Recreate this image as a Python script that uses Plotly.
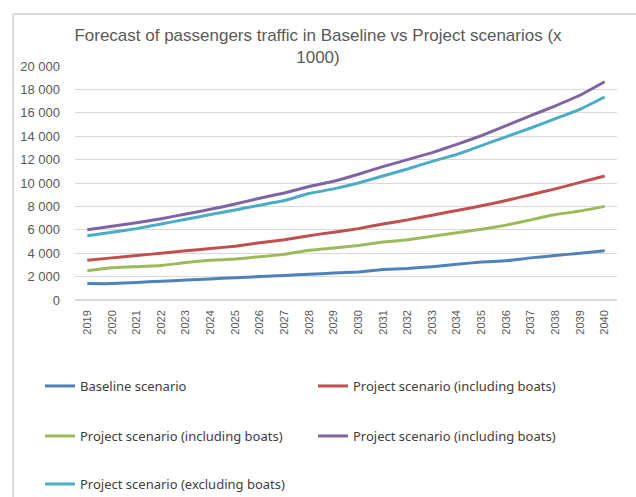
import plotly.graph_objects as go

years = [str(y) for y in range(2019, 2041)]

baseline = [1400, 1400, 1500, 1600, 1700, 1800, 1900, 2000, 2100, 2200, 2300, 2400,
            2600, 2700, 2850, 3050, 3250, 3350, 3600, 3800, 4000, 4200]
proj_incl_red = [3400, 3600, 3800, 4000, 4200, 4400, 4600, 4900, 5150, 5500, 5800, 6100,
                 6500, 6850, 7250, 7650, 8050, 8500, 9000, 9500, 10050, 10600]
proj_incl_green = [2500, 2750, 2850, 2950, 3200, 3400, 3500, 3700, 3900, 4250, 4450, 4650,
                   4950, 5150, 5450, 5750, 6050, 6400, 6850, 7300, 7600, 8000]
proj_incl_purple = [6000, 6300, 6600, 6950, 7350, 7750, 8200, 8700, 9150, 9700, 10150, 10750,
                    11400, 12000, 12600, 13300, 14050, 14900, 15750, 16600, 17500, 18650]
proj_excl = [5500, 5800, 6100, 6500, 6900, 7300, 7700, 8100, 8500, 9100, 9500, 10000,
             10600, 11200, 11850, 12450, 13200, 13950, 14700, 15500, 16300, 17350]

series = [
    ("Baseline scenario", baseline, "#4F81BD", "legend"),
    ("Project scenario (including boats)", proj_incl_red, "#C0504D", "legend"),
    ("Project scenario (including boats)", proj_incl_green, "#9BBB59", "legend2"),
    ("Project scenario (including boats)", proj_incl_purple, "#8064A2", "legend2"),
    ("Project scenario (excluding boats)", proj_excl, "#4BACC6", "legend3"),
]

W, H = 636, 497
L, R, T, B = 75, 19, 66, 197
pw, ph = W - L - R, H - T - B

def px(x):
    return (x - L) / pw

def py(y):
    return (H - B - y) / ph

fig = go.Figure()
for name, vals, color, lg in series:
    fig.add_trace(go.Scatter(x=years, y=vals, name=name, mode="lines",
                             line=dict(color=color, width=3, shape="spline", smoothing=0.3),
                             legend=lg))

legend_font = dict(family="Noto Sans", size=13, color="#404040")
common = dict(orientation="h", xanchor="left", yanchor="middle", font=legend_font,
              xref="container", yref="container",
              entrywidth=228, entrywidthmode="pixels", itemwidth=30,
              bgcolor="rgba(0,0,0,0)", traceorder="normal")

fig.update_layout(
    width=W, height=H,
    margin=dict(l=L, r=R, t=T, b=B, autoexpand=False),
    paper_bgcolor="white", plot_bgcolor="white",
    separators=". ",
    title=dict(text="Forecast of passengers traffic in Baseline vs Project scenarios (x<br>1000)",
               x=0.5, xref="container", xanchor="center",
               y=1 - 41 / H, yref="container", yanchor="top",
               font=dict(family="Liberation Sans", size=17, color="#595959")),
    xaxis=dict(type="category", tickangle=-90, showgrid=False, showline=False,
               range=[-0.5, len(years) - 0.5],
               tickfont=dict(family="Liberation Sans", size=11, color="#595959"),
               ticks="", ticklabelstandoff=7),
    yaxis=dict(range=[0, 20000], dtick=2000, tickformat=",d", showgrid=True,
               gridcolor="#d9d9d9", gridwidth=1, zeroline=True, zerolinecolor="#d9d9d9",
               showline=False, ticks="",
               tickfont=dict(family="Liberation Sans", size=13, color="#595959"),
               ticklabelstandoff=14),
    legend=dict(x=40 / W, y=1 - 386 / H, **common),
    legend2=dict(x=40 / W, y=1 - 436 / H, **common),
    legend3=dict(x=40 / W, y=1 - 484 / H, **common),
    showlegend=True,
    shapes=[
        dict(type="line", xref="paper", yref="paper", x0=px(13), x1=px(13),
             y0=py(14), y1=py(520), line=dict(color="#d9d9d9", width=2)),
        dict(type="line", xref="paper", yref="paper", x0=px(13), x1=px(660),
             y0=py(14), y1=py(14), line=dict(color="#d9d9d9", width=2)),
    ],
)

fig.write_html("out.html")
